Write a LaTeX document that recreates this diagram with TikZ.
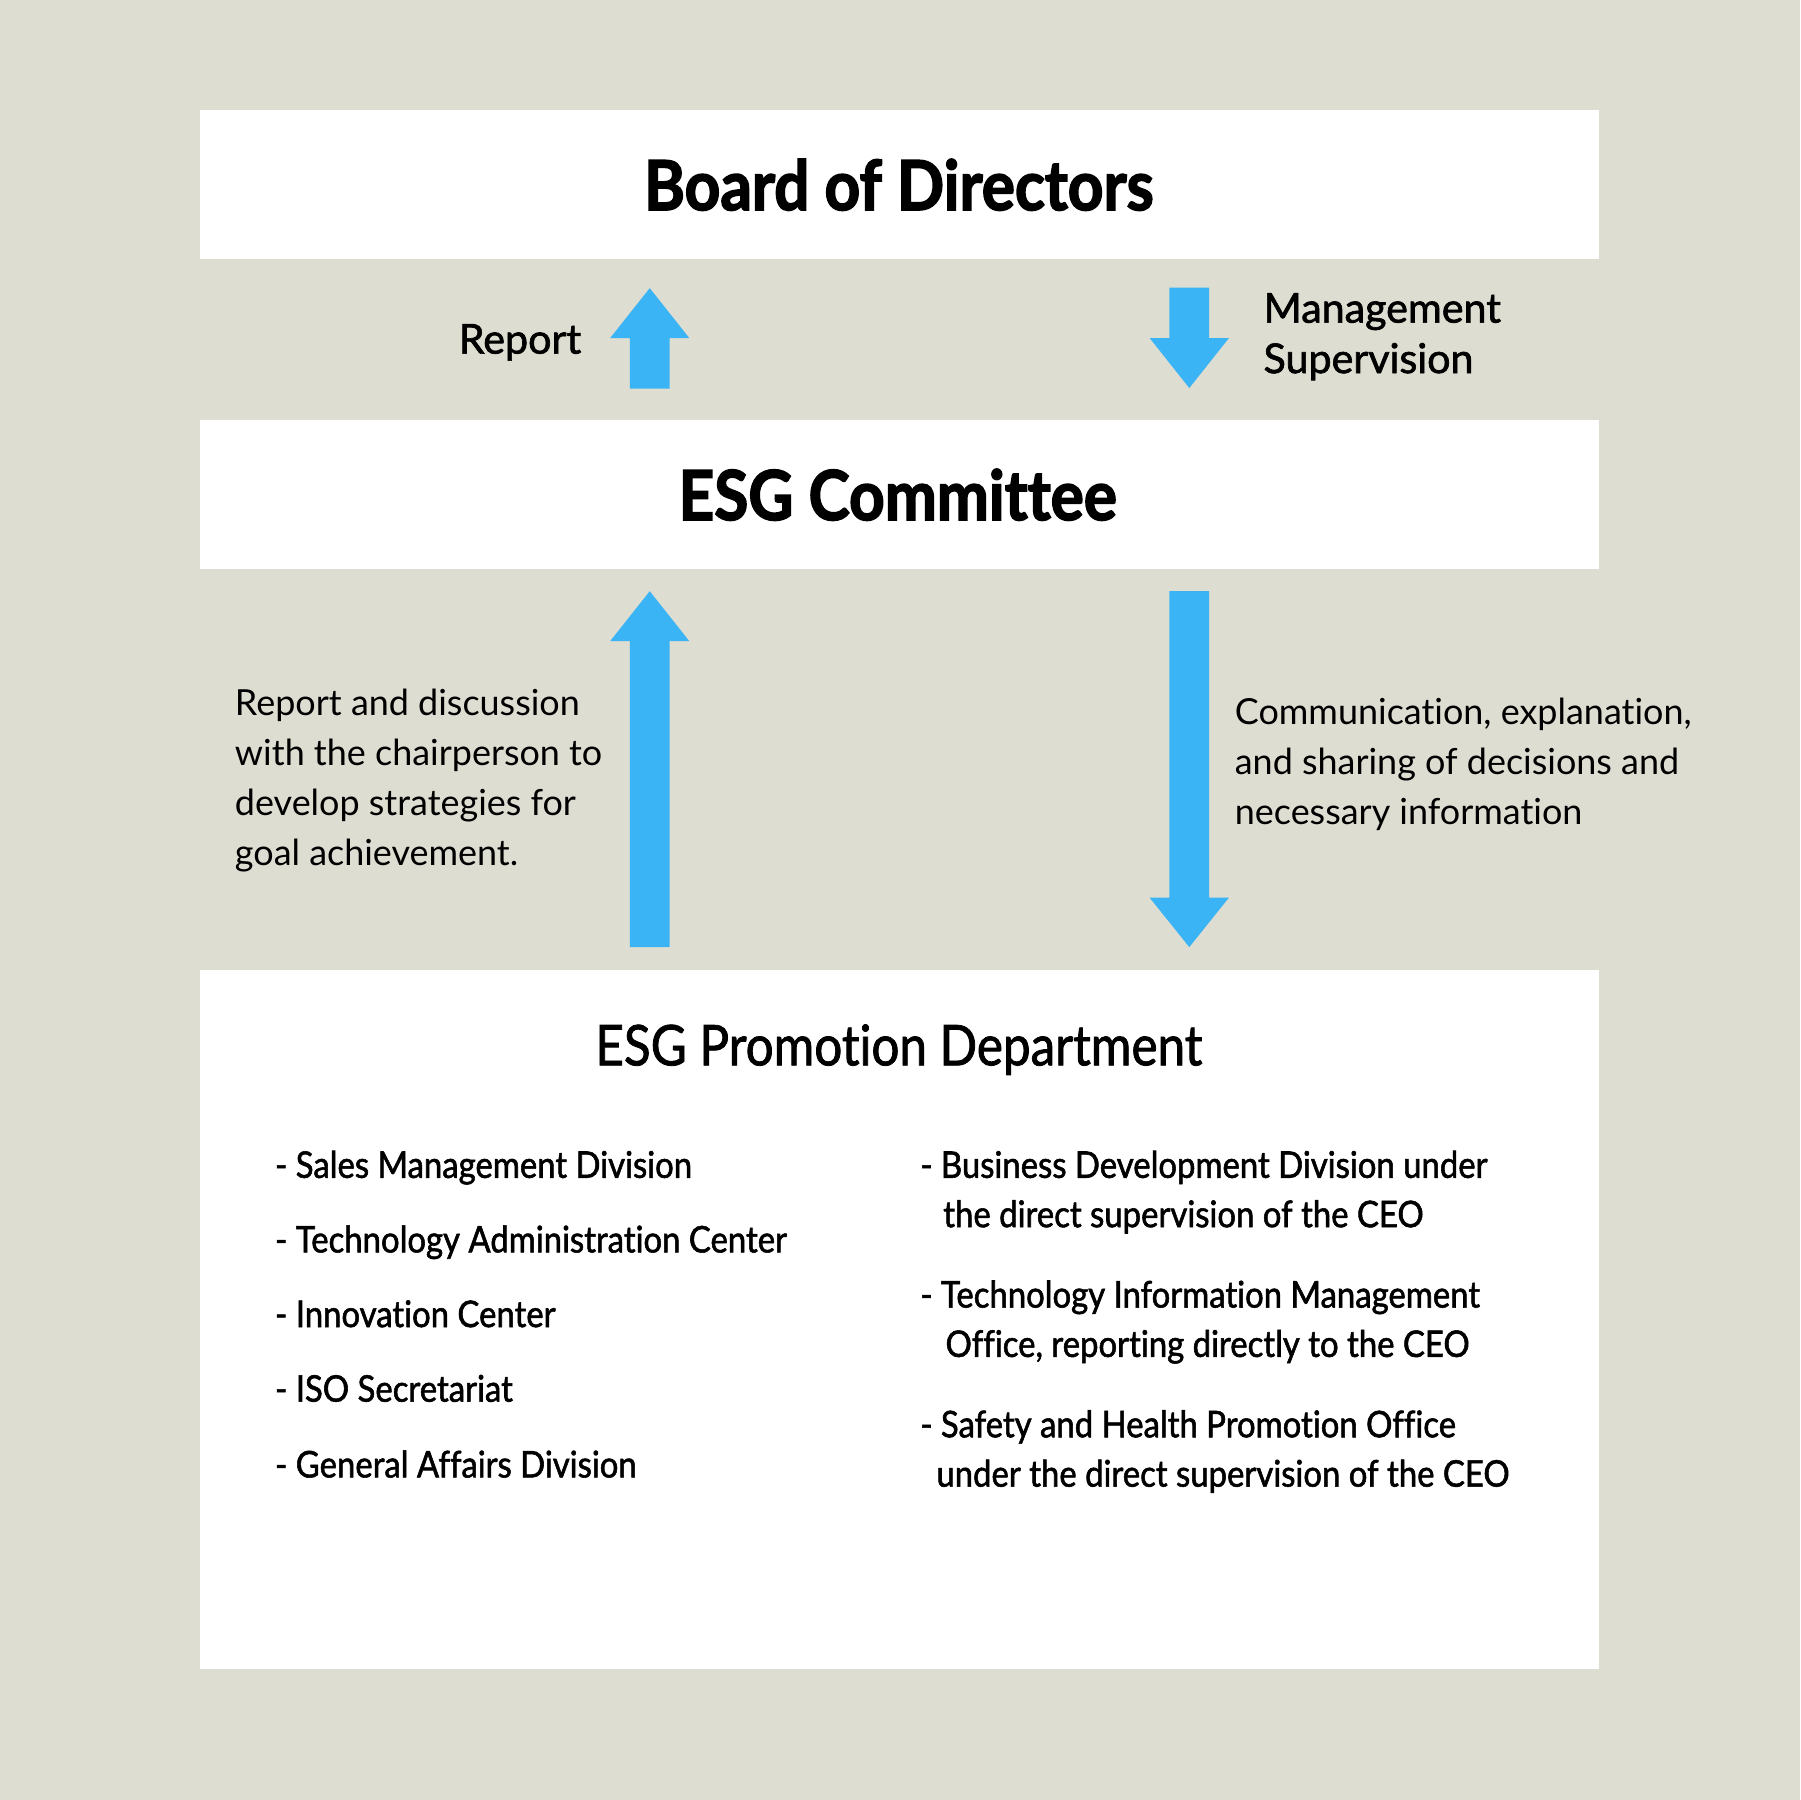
\documentclass[tikz,border=0pt]{standalone}
\usepackage{fontspec}
\setmainfont{Lato}[Ligatures=NoCommon]
\newfontfamily\heavyfont{Lato}[Ligatures=NoCommon, FakeStretch=0.9, BoldFeatures={FakeBold=2.2}]
\newfontfamily\labelfont{Lato}[Ligatures=NoCommon, FakeBold=1.6]
\newfontfamily\subfont{Lato}[Ligatures=NoCommon, FakeStretch=0.88, FakeBold=1.4]
\newfontfamily\listfont{Lato}[Ligatures=NoCommon, FakeStretch=0.895, FakeBold=1.5]
\definecolor{bgc}{HTML}{DDDDD2}
\definecolor{arrowc}{HTML}{3BB4F5}
\tikzset{
  panel/.style={fill=white, draw=none},
  blockarrow/.style={fill=arrowc, draw=none},
  titletext/.style={inner sep=0pt, anchor=base, font=\heavyfont\bfseries\fontsize{17.1}{20}\selectfont},
  labeltext/.style={inner sep=0pt, font=\labelfont\fontsize{10.2}{12.4}\selectfont},
  bodytext/.style={inner sep=0pt, anchor=base west, font=\fontsize{8.9}{12.4}\selectfont},
  subtitletext/.style={inner sep=0pt, anchor=base, font=\subfont\fontsize{13.9}{16}\selectfont},
  listtext/.style={inner sep=0pt, anchor=base west, font=\listfont\fontsize{9.1}{12}\selectfont}
}
\begin{document}
\begin{tikzpicture}[x=0.01cm,y=-0.01cm]
\fill[bgc] (0,0) rectangle (1568,1568);
\useasboundingbox (0,0) rectangle (1568,1568);
% panels
\fill[panel] (174,96) rectangle (1393,226);
\fill[panel] (174,366) rectangle (1393,496);
\fill[panel] (174,845) rectangle (1393,1454);
% titles
\node[titletext] (board) at (783,183) {Board of Directors};
\node[titletext] (esg) at (782,453) {ESG Committee};
\node[subtitletext] (promo) at (783,928) {ESG Promotion Department};
% small arrows
\coordinate (ua) at (566,251);
\fill[blockarrow] (ua) -- (600.5,294.5) -- (583.3,294.5) -- (583.3,338.5) -- (548.7,338.5) -- (548.7,294.5) -- (531.5,294.5) -- cycle;
\coordinate (da) at (1036,338);
\fill[blockarrow] (da) -- (1070.5,294.5) -- (1053.3,294.5) -- (1053.3,250.5) -- (1018.7,250.5) -- (1018.7,294.5) -- (1001.5,294.5) -- cycle;
% big arrows
\coordinate (ub) at (566,515);
\fill[blockarrow] (ub) -- (600.5,558.5) -- (583.3,558.5) -- (583.3,825) -- (548.7,825) -- (548.7,558.5) -- (531.5,558.5) -- cycle;
\coordinate (db) at (1036,825);
\fill[blockarrow] (db) -- (1070.5,782) -- (1053.3,782) -- (1053.3,515) -- (1018.7,515) -- (1018.7,782) -- (1001.5,782) -- cycle;
% arrow labels
\node[labeltext, anchor=base east] (report) at (507,308) {Report};
\node[labeltext, anchor=base west] (mgmt1) at (1100,281) {Management};
\node[labeltext, anchor=base west] (mgmt2) at (1100,325) {Supervision};
% left body
\node[bodytext] (l1) at (204,623) {Report and discussion};
\node[bodytext] (l2) at (204,667) {with the chairperson to};
\node[bodytext] (l3) at (204,710) {develop strategies for};
\node[bodytext] (l4) at (204,754) {goal achievement.};
% right body
\node[bodytext] (r1) at (1075,631) {Communication, explanation,};
\node[bodytext] (r2) at (1075,675) {and sharing of decisions and};
\node[bodytext] (r3) at (1075,718) {necessary information};
% left list
\node[listtext] (a1) at (239,1026) {- Sales Management Division};
\node[listtext] (a2) at (239,1091) {- Technology Administration Center};
\node[listtext] (a3) at (239,1156) {- Innovation Center};
\node[listtext] (a4) at (239,1221) {- ISO Secretariat};
\node[listtext] (a5) at (239,1287) {- General Affairs Division};
% right list
\node[listtext] (b1) at (801,1026) {- Business Development Division under};
\node[listtext] (b2) at (821,1069) {the direct supervision of the CEO};
\node[listtext] (b3) at (801,1139) {- Technology Information Management};
\node[listtext] (b4) at (823,1182) {Office, reporting directly to the CEO};
\node[listtext] (b5) at (801,1252) {- Safety and Health Promotion Office};
\node[listtext] (b6) at (815,1295) {under the direct supervision of the CEO};
\end{tikzpicture}
\end{document}
